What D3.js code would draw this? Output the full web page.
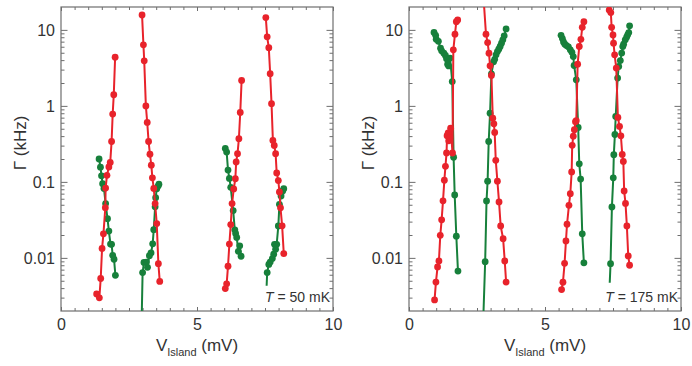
<!DOCTYPE html>
<html>
<head>
<meta charset="utf-8">
<script src="https://cdn.jsdelivr.net/npm/d3@7"></script>
<style>
  body { margin: 0; background: #fff; }
  svg { display: block; font-family: "Liberation Sans", Arial, sans-serif; }
</style>
</head>
<body>
<div id="chart"></div>
<script>
// axis ticks
const vTicks = [0, 5, 10];
const gammaTicks = [0.01, 0.1, 1, 10];

// T = 50 mK, [V_island (mV), Gamma (kHz)]
const red50a = [[1.31, 0.00336], [1.41, 0.00298], [1.46, 0.00535], [1.51, 0.0133], [1.56, 0.0207], [1.63, 0.0458], [1.64, 0.083], [1.69, 0.122], [1.76, 0.157], [1.81, 0.18], [1.86, 0.34], [1.90, 0.78], [1.94, 1.40], [1.99, 4.37]];
const green50a = [[1.40, 0.200], [1.45, 0.156], [1.49, 0.120], [1.53, 0.0946], [1.58, 0.082], [1.64, 0.0518], [1.71, 0.0328], [1.76, 0.0225], [1.82, 0.0152], [1.86, 0.0151], [1.90, 0.0108], [1.95, 0.0096], [2.00, 0.0059]];
const red50b = [[2.98, 15.7], [3.03, 6.36], [3.06, 3.92], [3.12, 1.00], [3.17, 0.605], [3.22, 0.34], [3.27, 0.231], [3.32, 0.166], [3.36, 0.113], [3.41, 0.082], [3.46, 0.0518], [3.52, 0.0283], [3.58, 0.0084], [3.63, 0.0049]];
const green50b = [[2.96, 0.0012], [3.00, 0.0064], [3.05, 0.0087], [3.14, 0.0088], [3.18, 0.0075], [3.25, 0.0107], [3.31, 0.0116], [3.37, 0.0153], [3.41, 0.0235], [3.46, 0.047], [3.48, 0.062], [3.52, 0.081], [3.57, 0.088], [3.60, 0.093]];
const red50c = [[6.04, 0.00395], [6.09, 0.00455], [6.14, 0.00776], [6.19, 0.0152], [6.24, 0.0274], [6.29, 0.0518], [6.35, 0.0807], [6.41, 0.110], [6.44, 0.183], [6.49, 0.235], [6.54, 0.370], [6.59, 0.819], [6.64, 2.16]];
const green50c = [[6.04, 0.275], [6.09, 0.247], [6.14, 0.143], [6.19, 0.111], [6.24, 0.0847], [6.33, 0.0419], [6.39, 0.0234], [6.42, 0.021], [6.46, 0.0186], [6.52, 0.0122], [6.57, 0.0144], [6.62, 0.0105]];
const red50d = [[7.53, 14.5], [7.58, 8.09], [7.64, 5.83], [7.69, 2.65], [7.74, 1.07], [7.79, 0.351], [7.84, 0.301], [7.89, 0.235], [7.93, 0.131], [7.99, 0.104], [8.03, 0.0737], [8.07, 0.0455], [8.13, 0.0264], [8.19, 0.0114]];
const green50d = [[7.56, 0.0043], [7.58, 0.0064], [7.64, 0.0082], [7.69, 0.0088], [7.77, 0.0098], [7.82, 0.0112], [7.85, 0.0151], [7.89, 0.013], [7.93, 0.0151], [7.99, 0.0263], [8.03, 0.0506], [8.09, 0.0653], [8.15, 0.0759], [8.19, 0.0814]];

// T = 175 mK
const red175a = [[0.94, 0.0028], [0.99, 0.0048], [1.05, 0.0076], [1.10, 0.0091], [1.15, 0.0198], [1.20, 0.0317], [1.25, 0.0563], [1.30, 0.105], [1.34, 0.160], [1.38, 0.240], [1.40, 0.405], [1.44, 0.44], [1.46, 0.347], [1.50, 0.386], [1.53, 0.508], [1.60, 0.240], [1.63, 5.46], [1.69, 8.78], [1.74, 12.8], [1.79, 13.5]];
const green175a = [[0.92, 9.27], [0.98, 8.47], [1.00, 7.55], [1.08, 7.07], [1.16, 5.75], [1.20, 5.30], [1.28, 4.94], [1.34, 4.60], [1.38, 4.16], [1.42, 3.54], [1.46, 3.36], [1.51, 4.25], [1.59, 2.09], [1.64, 0.211], [1.68, 0.0673], [1.74, 0.0193], [1.80, 0.0067]];
const red175b = [[2.73, 30], [2.83, 8.78], [2.89, 6.81], [2.94, 4.94], [2.98, 3.37], [3.03, 2.51], [3.08, 0.69], [3.12, 0.58], [3.15, 0.447], [3.19, 0.192], [3.25, 0.102], [3.31, 0.0545], [3.37, 0.0263], [3.46, 0.0179], [3.52, 0.0091], [3.57, 0.0048]];
const green175b = [[2.72, 0.0012], [2.80, 0.0089], [2.85, 0.0561], [2.89, 0.102], [2.93, 0.34], [2.98, 0.80], [3.03, 2.64], [3.11, 3.80], [3.15, 4.10], [3.20, 4.69], [3.25, 5.19], [3.30, 5.58], [3.35, 6.04], [3.40, 6.69], [3.45, 7.39], [3.50, 8.34], [3.57, 10.3]];
const red175c = [[5.61, 0.00383], [5.66, 0.00478], [5.72, 0.00847], [5.77, 0.0167], [5.81, 0.0277], [5.88, 0.0491], [5.93, 0.070], [5.98, 0.135], [6.00, 0.303], [6.04, 0.399], [6.08, 0.486], [6.12, 0.618], [6.15, 0.637], [6.20, 3.54], [6.26, 6.04], [6.32, 7.50], [6.37, 10.8], [6.43, 12.8]];
const green175c = [[5.59, 8.47], [5.64, 7.69], [5.68, 6.95], [5.73, 6.48], [5.79, 6.22], [5.86, 5.98], [5.93, 5.46], [5.99, 5.06], [6.04, 4.46], [6.07, 3.40], [6.15, 2.20], [6.22, 0.520], [6.26, 0.173], [6.31, 0.109], [6.37, 0.0207], [6.43, 0.0086]];
const red175d = [[7.36, 18.3], [7.42, 16.9], [7.45, 10.8], [7.50, 8.59], [7.52, 6.68], [7.56, 4.69], [7.62, 3.14], [7.68, 0.705], [7.74, 0.536], [7.79, 0.404], [7.84, 0.230], [7.88, 0.186], [7.91, 0.0758], [7.96, 0.0521], [8.01, 0.0263], [8.06, 0.0106], [8.11, 0.0080]];
const green175d = [[7.38, 0.0047], [7.41, 0.0084], [7.46, 0.0468], [7.51, 0.113], [7.53, 0.228], [7.57, 0.42], [7.60, 0.726], [7.67, 2.32], [7.71, 3.30], [7.77, 3.95], [7.82, 4.95], [7.86, 6.04], [7.89, 6.49], [7.95, 7.39], [8.00, 8.02], [8.04, 8.60], [8.08, 9.22], [8.11, 11.3]];

const RED = '#e8232b';
const GREEN = '#17803b';

// lead: first point is only a line end, no marker
const panels = [
  {
    left: 61, label: '50 mK',
    curves: [
      { data: green50a, color: GREEN }, { data: red50a, color: RED },
      { data: green50b, color: GREEN, lead: true }, { data: red50b, color: RED },
      { data: green50c, color: GREEN }, { data: red50c, color: RED },
      { data: green50d, color: GREEN, lead: true }, { data: red50d, color: RED }
    ]
  },
  {
    left: 409, label: '175 mK',
    curves: [
      { data: green175a, color: GREEN }, { data: red175a, color: RED },
      { data: green175b, color: GREEN, lead: true }, { data: red175b, color: RED, lead: true },
      { data: green175c, color: GREEN }, { data: red175c, color: RED },
      { data: green175d, color: GREEN, lead: true }, { data: red175d, color: RED }
    ]
  }
];

const width = 692, height = 366;
const plotTop = 7, plotW = 272, plotH = 304;
const frameColor = '#6e6e6e';
const textColor = '#333';

const svg = d3.select('#chart').append('svg')
  .attr('width', width)
  .attr('height', height);

const y = d3.scaleLog().domain([0.002, 20]).range([plotH, 0]);
const yMinor = [];
[0.001, 0.01, 0.1, 1, 10].forEach(dec => {
  for (let k = 2; k <= 9; k++) {
    const v = dec * k;
    if (v > 0.002 && v < 20) yMinor.push(v);
  }
});
const xMinor = d3.range(0.5, 10, 0.5).filter(v => !vTicks.includes(v));

panels.forEach((p, pi) => {
  const x = d3.scaleLinear().domain([0, 10]).range([0, plotW]);
  const g = svg.append('g').attr('transform', `translate(${p.left},${plotTop})`);

  const clipId = 'clip' + pi;
  g.append('clipPath').attr('id', clipId)
    .append('rect').attr('width', plotW).attr('height', plotH);

  // minor ticks
  const minorTicks = (axis, vals, size) => axis.tickValues(vals).tickSize(size).tickFormat('');
  const styleAxis = sel => {
    sel.select('.domain').remove();
    sel.selectAll('line').attr('stroke', frameColor);
  };

  g.append('g').attr('transform', `translate(0,${plotH})`)
    .call(minorTicks(d3.axisBottom(x), xMinor, -3)).call(styleAxis);
  g.append('g')
    .call(minorTicks(d3.axisTop(x), xMinor, -3)).call(styleAxis);
  g.append('g')
    .call(minorTicks(d3.axisLeft(y), yMinor, -3.5)).call(styleAxis);
  g.append('g').attr('transform', `translate(${plotW},0)`)
    .call(minorTicks(d3.axisRight(y), yMinor, -3.5)).call(styleAxis);

  // major ticks with labels
  g.append('g').attr('transform', `translate(0,${plotH})`)
    .call(d3.axisBottom(x).tickValues(vTicks).tickSize(-4).tickPadding(8).tickFormat(d3.format('d')))
    .call(styleAxis)
    .selectAll('text').attr('fill', textColor).style('font-size', '16px');
  g.append('g')
    .call(minorTicks(d3.axisTop(x), vTicks, -4)).call(styleAxis);
  g.append('g')
    .call(d3.axisLeft(y).tickValues(gammaTicks).tickSize(-6.5).tickPadding(6).tickFormat(d => String(d)))
    .call(styleAxis)
    .selectAll('text').attr('fill', textColor).style('font-size', '16px');
  g.append('g').attr('transform', `translate(${plotW},0)`)
    .call(minorTicks(d3.axisRight(y), gammaTicks, -6.5)).call(styleAxis);

  // frame
  g.append('rect')
    .attr('width', plotW).attr('height', plotH)
    .attr('fill', 'none')
    .attr('stroke', frameColor)
    .attr('stroke-width', 1.2);

  // curves
  const plot = g.append('g').attr('clip-path', `url(#${clipId})`);
  const line = d3.line().x(d => x(d[0])).y(d => y(d[1]));
  p.curves.forEach(c => {
    plot.append('path')
      .datum(c.data)
      .attr('d', line)
      .attr('fill', 'none')
      .attr('stroke', c.color)
      .attr('stroke-width', 2)
      .attr('stroke-linejoin', 'round');
    plot.append('g')
      .selectAll('circle')
      .data(c.lead ? c.data.slice(1) : c.data)
      .join('circle')
      .attr('cx', d => x(d[0]))
      .attr('cy', d => y(d[1]))
      .attr('r', 3.4)
      .attr('fill', c.color);
  });

  // temperature label
  const t = g.append('text')
    .attr('x', plotW - 3)
    .attr('y', plotH - 9)
    .attr('text-anchor', 'end')
    .attr('fill', textColor)
    .style('font-size', '14px');
  t.append('tspan').style('font-style', 'italic').text('T');
  t.append('tspan').text(' = ' + p.label);

  // x axis title
  const xt = g.append('text')
    .attr('x', plotW / 2)
    .attr('y', plotH + 40)
    .attr('text-anchor', 'middle')
    .attr('fill', textColor)
    .style('font-size', '17px');
  xt.append('tspan').text('V');
  xt.append('tspan').attr('dy', 5).style('font-size', '11px').text('Island');
  xt.append('tspan').attr('dy', -5).text(' (mV)');

  // y axis title
  g.append('text')
    .attr('transform', `translate(-35,${plotH / 2 - 16}) rotate(-90)`)
    .attr('text-anchor', 'middle')
    .attr('fill', textColor)
    .style('font-size', '17px')
    .text('Γ (kHz)');
});
</script>
</body>
</html>
